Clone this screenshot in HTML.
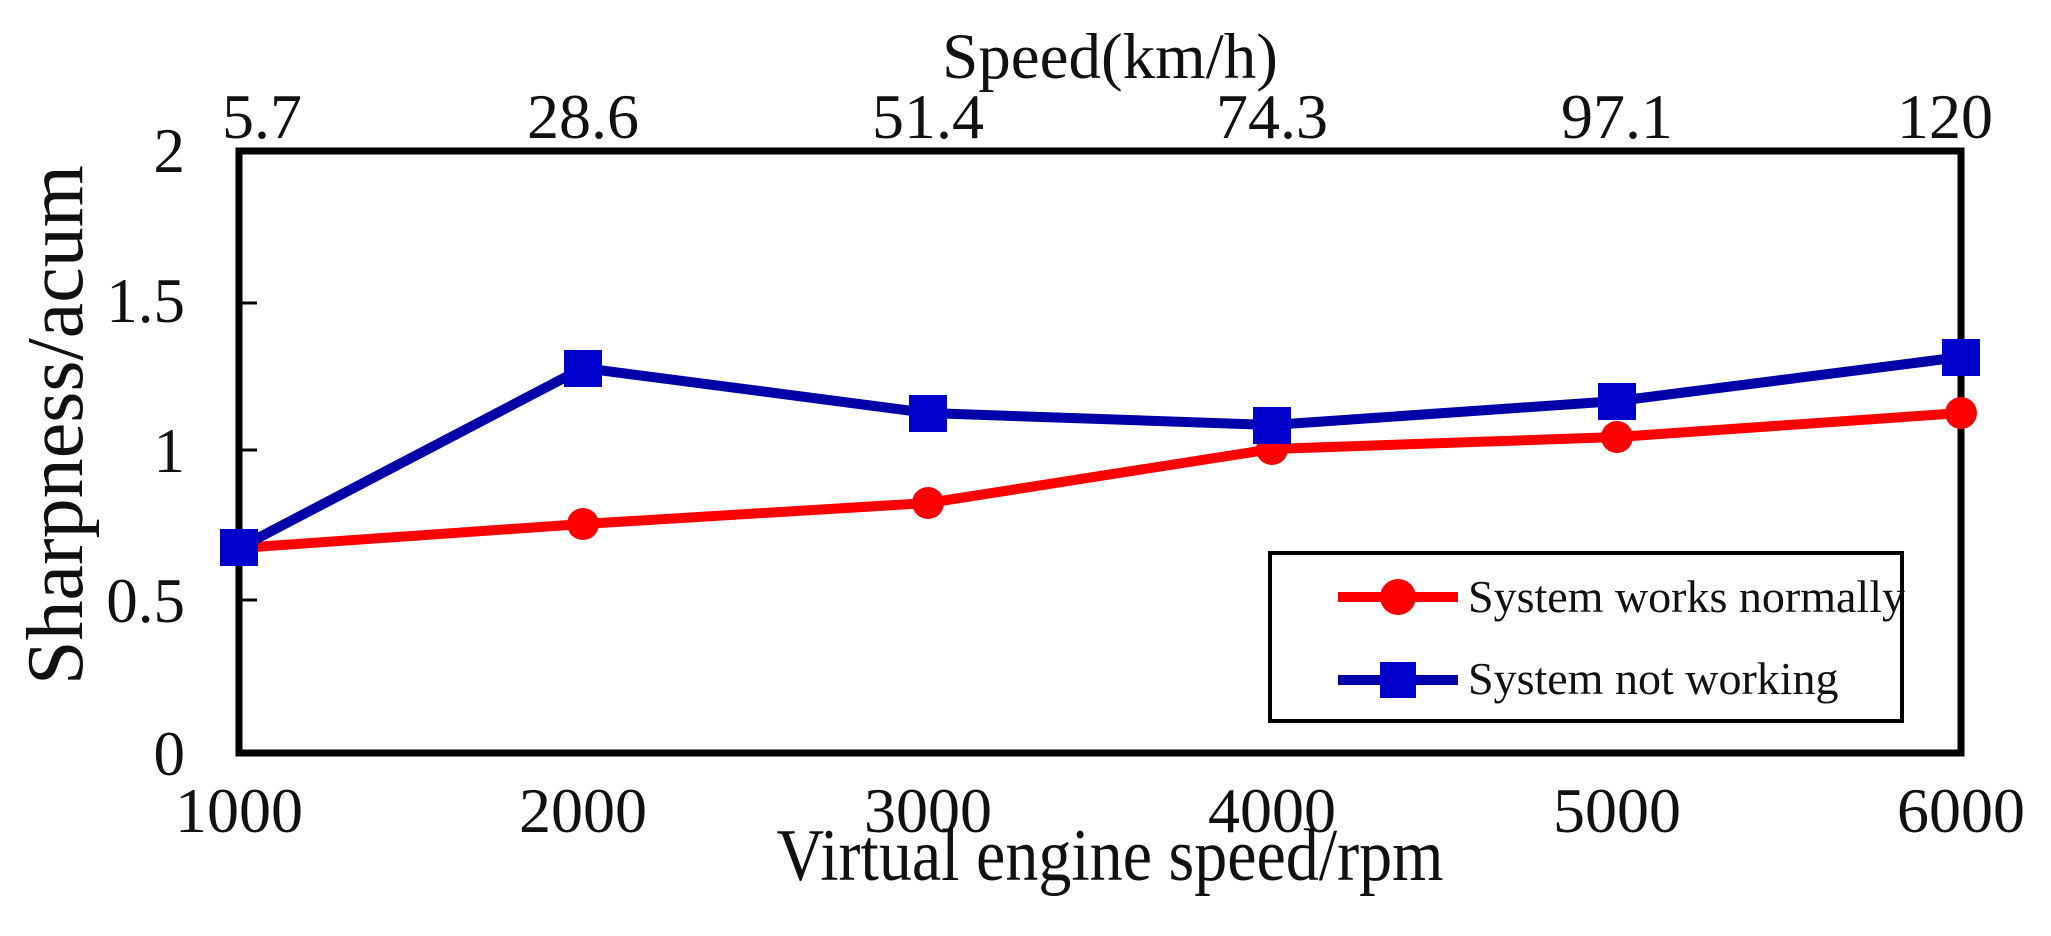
<!DOCTYPE html>
<html><head><meta charset="utf-8"><style>html,body{margin:0;padding:0;background:#fff}svg{display:block}</style></head>
<body>
<svg width="2051" height="936" viewBox="0 0 2051 936" xmlns="http://www.w3.org/2000/svg" font-family="Liberation Serif, serif" fill="#111">
<rect width="2051" height="936" fill="#fff"/>
<rect x="239" y="151" width="1722" height="602" fill="none" stroke="#000" stroke-width="7"/>
<g stroke="#000" stroke-width="3">
<line x1="239" y1="600" x2="257" y2="600"/><line x1="239" y1="450" x2="257" y2="450"/><line x1="239" y1="303" x2="257" y2="303"/>
</g>
<g font-size="63" text-anchor="end">
<text x="185" y="775">0</text><text x="185" y="622">0.5</text><text x="185" y="472">1</text><text x="185" y="322">1.5</text><text x="185" y="172">2</text>
</g>
<g font-size="64" text-anchor="middle">
<text x="239" y="832">1000</text><text x="583" y="832">2000</text><text x="928" y="832">3000</text><text x="1272" y="832">4000</text><text x="1617" y="832">5000</text><text x="1961" y="832">6000</text>
<text x="262" y="138">5.7</text><text x="583" y="138">28.6</text><text x="928" y="138">51.4</text><text x="1272" y="138">74.3</text><text x="1617" y="138">97.1</text><text x="1945" y="138">120</text>
<text x="1110" y="880" font-size="74" textLength="667" lengthAdjust="spacingAndGlyphs">Virtual engine speed/rpm</text>
<text x="1110" y="78" font-size="65">Speed(km/h)</text>
<text transform="translate(82,425) rotate(-90)" font-size="80" textLength="520" lengthAdjust="spacingAndGlyphs">Sharpness/acum</text>
</g>
<polyline fill="none" stroke="#f00" stroke-width="10" stroke-linejoin="round" points="239,548 583,524 928,503 1272,449 1617,437 1961,413"/>
<g fill="#f00"><circle cx="583" cy="524" r="16"/><circle cx="928" cy="503" r="16"/><circle cx="1272" cy="449" r="16"/><circle cx="1617" cy="437" r="16"/><circle cx="1961" cy="413" r="16"/></g>
<polyline fill="none" stroke="#0000a8" stroke-width="10" stroke-linejoin="round" points="239,548 583,368 928,413 1272,425 1617,401 1961,357"/>
<g fill="#0000cc"><rect x="220" y="529" width="38" height="37"/><rect x="564" y="350" width="38" height="37"/><rect x="909" y="395" width="38" height="37"/><rect x="1253" y="407" width="38" height="37"/><rect x="1598" y="383" width="38" height="37"/><rect x="1942" y="339" width="38" height="37"/></g>
<rect x="1270" y="553" width="632" height="168" fill="#fff" stroke="#000" stroke-width="4"/>
<line x1="1338" y1="597" x2="1458" y2="597" stroke="#f00" stroke-width="10"/>
<circle cx="1398" cy="597" r="18" fill="#f00"/>
<line x1="1338" y1="680" x2="1458" y2="680" stroke="#0000a8" stroke-width="10"/>
<rect x="1380" y="662" width="36" height="36" fill="#0000cc"/>
<g font-size="46"><text x="1468" y="612">System works normally</text><text x="1468" y="694">System not working</text></g>
</svg>
</body></html>
